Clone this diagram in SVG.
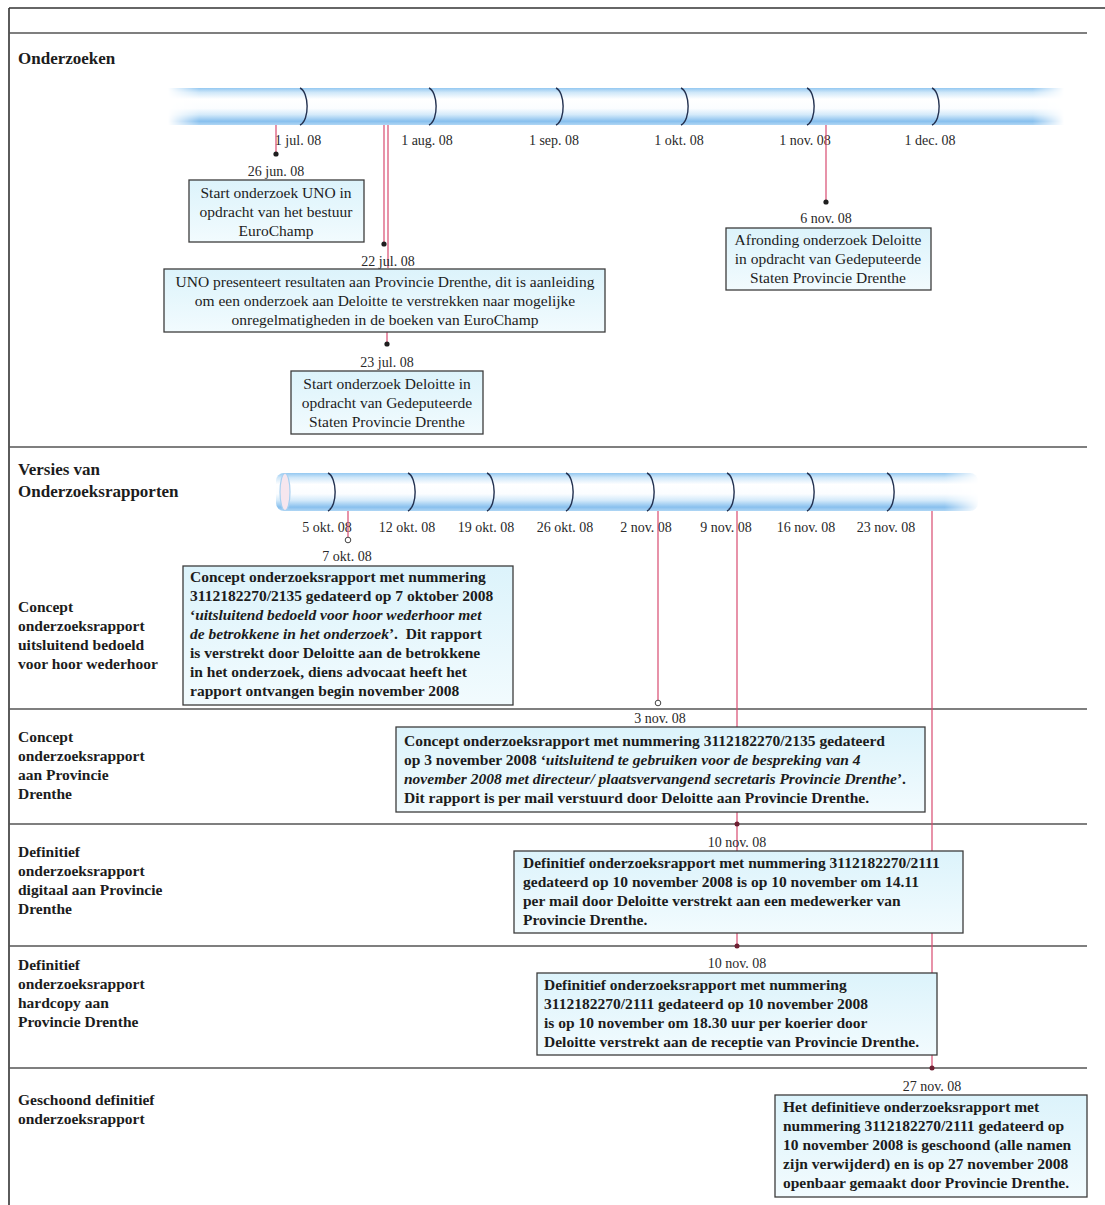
<svg xmlns="http://www.w3.org/2000/svg" width="1105" height="1205" viewBox="0 0 1105 1205">
<defs>
<linearGradient id="barV" x1="0" y1="0" x2="0" y2="1">
<stop offset="0" stop-color="#94c8f1"/>
<stop offset="0.12" stop-color="#cfe7f9"/>
<stop offset="0.3" stop-color="#ffffff"/>
<stop offset="0.55" stop-color="#fbfdff"/>
<stop offset="0.72" stop-color="#d4eafa"/>
<stop offset="0.9" stop-color="#88c0ee"/>
<stop offset="1" stop-color="#b0d6f4"/>
</linearGradient>
<linearGradient id="fadeH" x1="0" y1="0" x2="1" y2="0">
<stop offset="0" stop-color="#000"/>
<stop offset="0.035" stop-color="#fff"/>
<stop offset="0.965" stop-color="#fff"/>
<stop offset="1" stop-color="#000"/>
</linearGradient>
<linearGradient id="fadeR" x1="0" y1="0" x2="1" y2="0">
<stop offset="0" stop-color="#fff"/>
<stop offset="0.95" stop-color="#fff"/>
<stop offset="1" stop-color="#000"/>
</linearGradient>
<mask id="m1" maskUnits="userSpaceOnUse" x="160" y="80" width="910" height="55">
<rect x="168" y="80" width="896" height="55" fill="url(#fadeH)"/>
</mask>
<mask id="m2" maskUnits="userSpaceOnUse" x="270" y="465" width="715" height="55">
<rect x="270" y="465" width="710" height="55" fill="url(#fadeR)"/>
</mask>
<linearGradient id="boxFill" x1="0" y1="0" x2="0" y2="1">
<stop offset="0" stop-color="#dcf3fb"/>
<stop offset="1" stop-color="#f2fbfe"/>
</linearGradient>
<style>
.frame{stroke:#333;stroke-width:1.6;fill:none}
.sep{stroke:#555;stroke-width:1.5;fill:none}
.tick{stroke:#233150;stroke-width:1.4;fill:none}
.box{fill:url(#boxFill);stroke:#3c3c3c;stroke-width:1.3}
.red{stroke:#d84a70;stroke-width:1.2;fill:none}
.dot{fill:#1e1e1e}
.sdot{fill:#6e2032}
.hollow{fill:#fff;stroke:#444;stroke-width:1}
text{font-family:"Liberation Serif","Times New Roman",serif;fill:#1c1c1c}
.date{font-size:14px;text-anchor:middle;fill:#2a2a2a}
.axis{font-size:14px;text-anchor:middle;fill:#2a2a2a}
.reg{font-size:15.5px;text-anchor:middle}
.bold{font-size:15.5px;font-weight:bold;white-space:pre}
.lab{font-size:15.5px;font-weight:bold}
.title{font-size:17px;font-weight:bold}
.it{font-style:italic}
</style>
</defs>
<rect x="0" y="0" width="1105" height="1205" fill="#ffffff"/>

<g id="frame">
<line class="frame" x1="9" y1="8" x2="1105" y2="8"/>
<line class="frame" x1="9" y1="8" x2="9" y2="1205"/>
<line class="sep" x1="9" y1="33" x2="1087" y2="33"/>
<line class="sep" x1="9" y1="447" x2="1087" y2="447"/>
<line class="sep" x1="9" y1="709" x2="1087" y2="709"/>
<line class="sep" x1="9" y1="824" x2="1087" y2="824"/>
<line class="sep" x1="9" y1="946" x2="1087" y2="946"/>
<line class="sep" x1="9" y1="1068" x2="1087" y2="1068"/>
</g>

<g id="section-labels">
<text class="title" x="18" y="64">Onderzoeken</text>
<text class="title" x="18" y="475">Versies van</text>
<text class="title" x="18" y="497">Onderzoeksrapporten</text>
<text class="lab" x="18" y="612">Concept</text>
<text class="lab" x="18" y="631">onderzoeksrapport</text>
<text class="lab" x="18" y="650">uitsluitend bedoeld</text>
<text class="lab" x="18" y="669">voor hoor wederhoor</text>
<text class="lab" x="18" y="742">Concept</text>
<text class="lab" x="18" y="761">onderzoeksrapport</text>
<text class="lab" x="18" y="780">aan Provincie</text>
<text class="lab" x="18" y="799">Drenthe</text>
<text class="lab" x="18" y="857">Definitief</text>
<text class="lab" x="18" y="876">onderzoeksrapport</text>
<text class="lab" x="18" y="895">digitaal aan Provincie</text>
<text class="lab" x="18" y="914">Drenthe</text>
<text class="lab" x="18" y="970">Definitief</text>
<text class="lab" x="18" y="989">onderzoeksrapport</text>
<text class="lab" x="18" y="1008">hardcopy aan</text>
<text class="lab" x="18" y="1027">Provincie Drenthe</text>
<text class="lab" x="18" y="1105">Geschoond definitief</text>
<text class="lab" x="18" y="1124">onderzoeksrapport</text>
</g>

<g id="timeline-months">
<rect x="168" y="88" width="896" height="37" fill="url(#barV)" mask="url(#m1)"/>
<path class="tick" d="M300,88 C309,92 310,120 300,125"/>
<path class="tick" d="M429,88 C438,92 439,120 429,125"/>
<path class="tick" d="M556,88 C565,92 566,120 556,125"/>
<path class="tick" d="M681,88 C690,92 691,120 681,125"/>
<path class="tick" d="M807,88 C816,92 817,120 807,125"/>
<path class="tick" d="M932,88 C941,92 942,120 932,125"/>
<text class="axis" x="298" y="145">1 jul. 08</text>
<text class="axis" x="427" y="145">1 aug. 08</text>
<text class="axis" x="554" y="145">1 sep. 08</text>
<text class="axis" x="679" y="145">1 okt. 08</text>
<text class="axis" x="805" y="145">1 nov. 08</text>
<text class="axis" x="930" y="145">1 dec. 08</text>
</g>

<g id="timeline-weeks">
<rect x="276" y="473" width="702" height="38" rx="8" fill="url(#barV)" mask="url(#m2)"/>
<ellipse cx="285" cy="492" rx="5" ry="18.5" fill="#f6e6ee" stroke="#a9d0f0" stroke-width="1.2"/>
<path class="tick" d="M328,473 C337,477 338,506 328,511"/>
<path class="tick" d="M408,473 C417,477 418,506 408,511"/>
<path class="tick" d="M487,473 C496,477 497,506 487,511"/>
<path class="tick" d="M566,473 C575,477 576,506 566,511"/>
<path class="tick" d="M647,473 C656,477 657,506 647,511"/>
<path class="tick" d="M727,473 C736,477 737,506 727,511"/>
<path class="tick" d="M807,473 C816,477 817,506 807,511"/>
<path class="tick" d="M887,473 C896,477 897,506 887,511"/>
<text class="axis" x="327" y="532">5 okt. 08</text>
<text class="axis" x="407" y="532">12 okt. 08</text>
<text class="axis" x="486" y="532">19 okt. 08</text>
<text class="axis" x="565" y="532">26 okt. 08</text>
<text class="axis" x="646" y="532">2 nov. 08</text>
<text class="axis" x="726" y="532">9 nov. 08</text>
<text class="axis" x="806" y="532">16 nov. 08</text>
<text class="axis" x="886" y="532">23 nov. 08</text>
</g>

<g id="connectors">
<line class="red" x1="276" y1="125" x2="276" y2="154"/>
<circle class="dot" cx="276" cy="154" r="2.6"/>
<line class="red" x1="384" y1="125" x2="384" y2="244"/>
<line class="red" x1="388" y1="125" x2="388" y2="268"/>
<circle class="dot" cx="384" cy="244" r="2.6"/>
<line class="red" x1="387" y1="332" x2="387" y2="344"/>
<circle class="dot" cx="387" cy="344" r="2.6"/>
<line class="red" x1="826" y1="125" x2="826" y2="202"/>
<circle class="dot" cx="826" cy="202" r="2.6"/>
<line class="red" x1="348" y1="511" x2="348" y2="537"/>
<circle class="hollow" cx="348" cy="540" r="2.8"/>
<line class="red" x1="658" y1="511" x2="658" y2="700"/>
<circle class="hollow" cx="658" cy="703" r="2.8"/>
<line class="red" x1="737" y1="511" x2="737" y2="946"/>
<circle class="sdot" cx="737" cy="824" r="2.5"/>
<circle class="sdot" cx="737" cy="946" r="2.5"/>
<line class="red" x1="932" y1="511" x2="932" y2="1068"/>
<circle class="sdot" cx="932" cy="1068" r="2.5"/>
</g>

<g id="node-26jun">
<text class="date" x="276" y="176">26 jun. 08</text>
<rect class="box" x="189" y="180" width="175" height="62"/>
<text class="reg" x="276" y="198">Start onderzoek UNO in</text>
<text class="reg" x="276" y="217">opdracht van het bestuur</text>
<text class="reg" x="276" y="236">EuroChamp</text>
</g>

<g id="node-22jul">
<text class="date" x="388" y="266">22 jul. 08</text>
<rect class="box" x="164" y="269" width="441" height="63"/>
<text class="reg" x="385" y="287">UNO presenteert resultaten aan Provincie Drenthe, dit is aanleiding</text>
<text class="reg" x="385" y="306">om een onderzoek aan Deloitte te verstrekken naar mogelijke</text>
<text class="reg" x="385" y="325">onregelmatigheden in de boeken van EuroChamp</text>
</g>

<g id="node-23jul">
<text class="date" x="387" y="367">23 jul. 08</text>
<rect class="box" x="291" y="371" width="192" height="63"/>
<text class="reg" x="387" y="389">Start onderzoek Deloitte in</text>
<text class="reg" x="387" y="408">opdracht van Gedeputeerde</text>
<text class="reg" x="387" y="427">Staten Provincie Drenthe</text>
</g>

<g id="node-6nov">
<text class="date" x="826" y="223">6 nov. 08</text>
<rect class="box" x="726" y="228" width="205" height="62"/>
<text class="reg" x="828" y="245">Afronding onderzoek Deloitte</text>
<text class="reg" x="828" y="264">in opdracht van Gedeputeerde</text>
<text class="reg" x="828" y="283">Staten Provincie Drenthe</text>
</g>

<g id="node-7okt">
<text class="date" x="347" y="561">7 okt. 08</text>
<rect class="box" x="183" y="566" width="330" height="139"/>
<text class="bold" x="190" y="582">Concept onderzoeksrapport met nummering</text>
<text class="bold" x="190" y="601">3112182270/2135 gedateerd op 7 oktober 2008</text>
<text class="bold" x="190" y="620">‘<tspan class="it">uitsluitend bedoeld voor hoor wederhoor met</tspan></text>
<text class="bold" x="190" y="639"><tspan class="it">de betrokkene in het onderzoek</tspan>’.  Dit rapport</text>
<text class="bold" x="190" y="658">is verstrekt door Deloitte aan de betrokkene</text>
<text class="bold" x="190" y="677">in het onderzoek, diens advocaat heeft het</text>
<text class="bold" x="190" y="696">rapport ontvangen begin november 2008</text>
</g>

<g id="node-3nov">
<text class="date" x="660" y="723">3 nov. 08</text>
<rect class="box" x="396" y="727" width="529" height="85"/>
<text class="bold" x="404" y="746">Concept onderzoeksrapport met nummering 3112182270/2135 gedateerd</text>
<text class="bold" x="404" y="765">op 3 november 2008 ‘<tspan class="it">uitsluitend te gebruiken voor de bespreking van 4</tspan></text>
<text class="bold" x="404" y="784"><tspan class="it">november 2008 met directeur/ plaatsvervangend secretaris Provincie Drenthe</tspan>’.</text>
<text class="bold" x="404" y="803">Dit rapport is per mail verstuurd door Deloitte aan Provincie Drenthe.</text>
</g>

<g id="node-10nov-digitaal">
<text class="date" x="737" y="847">10 nov. 08</text>
<rect class="box" x="514" y="851" width="449" height="82"/>
<text class="bold" x="523" y="868">Definitief onderzoeksrapport met nummering 3112182270/2111</text>
<text class="bold" x="523" y="887">gedateerd op 10 november 2008 is op 10 november om 14.11</text>
<text class="bold" x="523" y="906">per mail door Deloitte verstrekt aan een medewerker van</text>
<text class="bold" x="523" y="925">Provincie Drenthe.</text>
</g>

<g id="node-10nov-hardcopy">
<text class="date" x="737" y="968">10 nov. 08</text>
<rect class="box" x="537" y="973" width="400" height="82"/>
<text class="bold" x="544" y="990">Definitief onderzoeksrapport met nummering</text>
<text class="bold" x="544" y="1009">3112182270/2111 gedateerd op 10 november 2008</text>
<text class="bold" x="544" y="1028">is op 10 november om 18.30 uur per koerier door</text>
<text class="bold" x="544" y="1047">Deloitte verstrekt aan de receptie van Provincie Drenthe.</text>
</g>

<g id="node-27nov">
<text class="date" x="932" y="1091">27 nov. 08</text>
<rect class="box" x="775" y="1095" width="312" height="102"/>
<text class="bold" x="783" y="1112">Het definitieve onderzoeksrapport met</text>
<text class="bold" x="783" y="1131">nummering 3112182270/2111 gedateerd op</text>
<text class="bold" x="783" y="1150">10 november 2008 is geschoond (alle namen</text>
<text class="bold" x="783" y="1169">zijn verwijderd) en is op 27 november 2008</text>
<text class="bold" x="783" y="1188">openbaar gemaakt door Provincie Drenthe.</text>
</g>
</svg>
